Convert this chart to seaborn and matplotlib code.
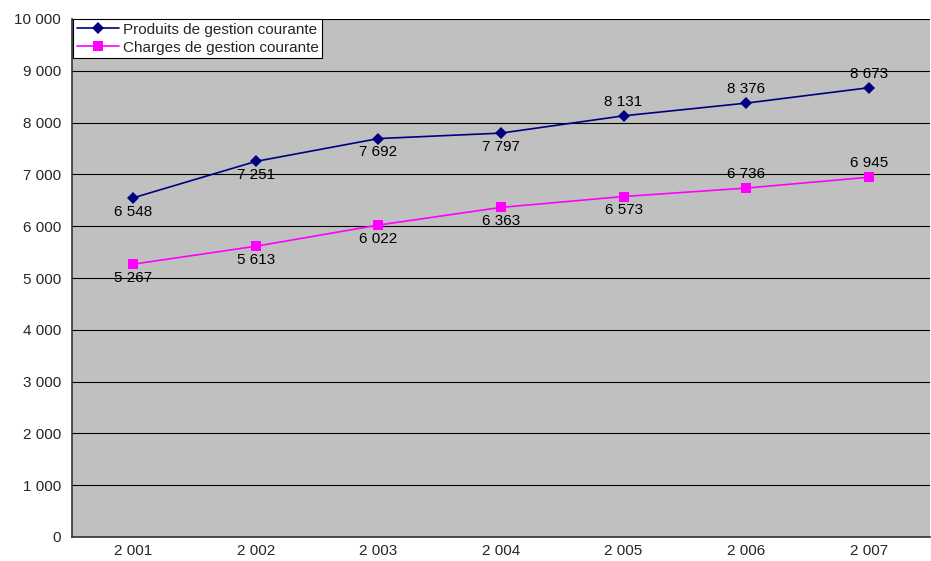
import matplotlib
matplotlib.use("Agg")
import matplotlib.pyplot as plt
import seaborn as sns
import pandas as pd
from matplotlib.ticker import FuncFormatter, FixedLocator

years = ["2 001", "2 002", "2 003", "2 004", "2 005", "2 006", "2 007"]
produits = [6548, 7251, 7692, 7797, 8131, 8376, 8673]
charges = [5267, 5613, 6022, 6363, 6573, 6736, 6945]
produits_pos = ["below", "below", "below", "below", "above", "above", "above"]
charges_pos = ["below", "below", "below", "below", "below", "above", "above"]
series_names = ["Produits de gestion courante", "Charges de gestion courante"]

sns.set_style("white")
plt.rcParams["font.family"] = ["Liberation Sans", "DejaVu Sans"]
FS = 11

df = pd.DataFrame({
    "x": list(range(len(years))) * 2,
    "value": produits + charges,
    "serie": [series_names[0]] * len(years) + [series_names[1]] * len(years),
})

fig = plt.figure(figsize=(9.31, 5.61), dpi=100)
ax = fig.add_axes([72 / 931, 1 - 537 / 561, 858 / 931, 518 / 561])
ax.set_facecolor("#C0C0C0")

palette = {series_names[0]: "#000080", series_names[1]: "#FF00FF"}
markers = {series_names[0]: "D", series_names[1]: "s"}
sns.lineplot(data=df, x="x", y="value", hue="serie", style="serie",
             palette=palette, markers=markers, dashes=False,
             markersize=7, linewidth=1.2, markeredgewidth=0, ax=ax)

for s in ax.lines:
    if s.get_marker() == "D":
        s.set_markersize(6.5)

ax.set_xlim(-0.5, len(years) - 0.5)
ax.set_ylim(0, 10000)
ax.yaxis.set_major_locator(FixedLocator(range(0, 10001, 1000)))
ax.yaxis.set_major_formatter(FuncFormatter(lambda v, p: f"{int(v):,}".replace(",", " ")))
ax.set_xticks(range(len(years)))
ax.set_xticklabels(years)
ax.set_xticks([i - 0.5 for i in range(len(years) + 1)], minor=True)
ax.tick_params(axis="x", which="major", length=0, labelsize=FS, pad=5)
ax.tick_params(axis="x", which="minor", length=5, width=1, color="#333333", direction="out")
ax.tick_params(axis="y", which="major", length=5, width=1, color="#333333", direction="out", labelsize=FS, pad=3)
ax.grid(axis="y", color="black", linewidth=0.8)
ax.set_axisbelow(True)
ax.set_xlabel("")
ax.set_ylabel("")
for side in ["top", "right"]:
    ax.spines[side].set_visible(False)
for side in ["left", "bottom"]:
    ax.spines[side].set_color("#333333")
    ax.spines[side].set_linewidth(1.2)

for vals, pos in [(produits, produits_pos), (charges, charges_pos)]:
    for i, (v, p) in enumerate(zip(vals, pos)):
        off = 10 if p == "above" else -10
        ax.annotate(f"{v:,}".replace(",", " "), (i, v), xytext=(0, off),
                    textcoords="offset points", ha="center", va="center",
                    fontsize=FS, color="black")

leg = ax.legend(loc="upper left", bbox_to_anchor=(0.001, 1.0), frameon=True,
                fancybox=False, framealpha=1, edgecolor="black", fontsize=FS,
                borderpad=0.25, labelspacing=0.25, handlelength=2.8,
                handletextpad=0.2, borderaxespad=0)
leg.get_frame().set_linewidth(0.8)

fig.savefig("out.png", dpi=100)
